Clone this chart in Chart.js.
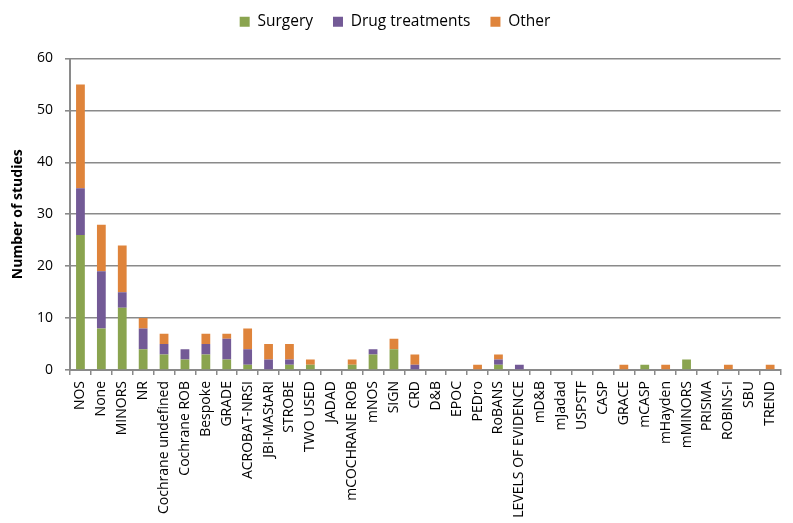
<!DOCTYPE html>
<html>
<head>
<meta charset="utf-8">
<script src="https://cdn.jsdelivr.net/npm/chart.js@4/dist/chart.umd.min.js"></script>
<style>
  html, body { margin: 0; padding: 0; background: #ffffff; }
  #wrap { width: 793px; height: 523px; }
</style>
</head>
<body>
<div id="wrap"><canvas id="c" width="793" height="523"></canvas></div>
<script>
// Quality-assessment tools used, split by treatment area
const tools = ["NOS", "None", "MINORS", "NR", "Cochrane undefined", "Cochrane ROB", "Bespoke", "GRADE",
  "ACROBAT-NRSI", "JBI-MAStARI", "STROBE", "TWO USED", "JADAD", "mCOCHRANE ROB", "mNOS", "SIGN", "CRD",
  "D&B", "EPOC", "PEDro", "RoBANS", "LEVELS OF EVIDENCE", "mD&B", "mJadad", "USPSTF", "CASP", "GRACE",
  "mCASP", "mHayden", "mMINORS", "PRISMA", "ROBINS-I", "SBU", "TREND"];

const surgery = [26, 8, 12, 4, 3, 2, 3, 2, 1, 0, 1, 1, 0, 1, 3, 4, 0,
  0, 0, 0, 1, 0, 0, 0, 0, 0, 0, 1, 0, 2, 0, 0, 0, 0];
const drugTreatments = [9, 11, 3, 4, 2, 2, 2, 4, 3, 2, 1, 0, 0, 0, 1, 0, 1,
  0, 0, 0, 1, 1, 0, 0, 0, 0, 0, 0, 0, 0, 0, 0, 0, 0];
const other = [20, 9, 9, 2, 2, 0, 2, 1, 4, 3, 3, 1, 0, 1, 0, 2, 2,
  0, 0, 1, 1, 0, 0, 0, 0, 0, 1, 0, 1, 0, 0, 1, 0, 1];

const yTicks = [0, 10, 20, 30, 40, 50, 60];

const FONT = "'Open Sans', 'DejaVu Sans', sans-serif";
const GRID = '#8a8a8a';

// Leave extra room between the legend row and the plot
const legendGap = {
  id: 'legendGap',
  beforeInit(chart) {
    const legend = chart.legend;
    const origFit = legend.fit;
    legend.fit = function () {
      origFit.call(this);
      this.height += 19;
    };
  }
};

new Chart(document.getElementById('c'), {
  type: 'bar',
  data: {
    labels: tools,
    datasets: [
      { label: 'Surgery', data: surgery, backgroundColor: '#8aa44f' },
      { label: 'Drug treatments', data: drugTreatments, backgroundColor: '#735a96' },
      { label: 'Other', data: other, backgroundColor: '#df843b' }
    ]
  },
  plugins: [legendGap],
  options: {
    responsive: false,
    animation: false,
    layout: { padding: { left: 0, right: 3, top: -6, bottom: 0 } },
    datasets: { bar: { categoryPercentage: 1.0, barPercentage: 0.42 } },
    plugins: {
      legend: {
        position: 'top',
        labels: {
          font: { family: FONT, size: 15.5 },
          color: '#000',
          boxWidth: 10,
          boxHeight: 10,
          padding: 20
        }
      },
      tooltip: { enabled: false }
    },
    scales: {
      x: {
        stacked: true,
        offset: true,
        afterFit: (axis) => { axis.height = 153; },
        border: { color: GRID, width: 2 },
        grid: { display: true, drawOnChartArea: false, drawTicks: true, tickLength: 5, color: GRID, lineWidth: 1.5, offset: true },
        ticks: {
          autoSkip: false,
          maxRotation: 90,
          minRotation: 90,
          color: '#000',
          font: { family: FONT, size: 14 },
          padding: 6
        }
      },
      y: {
        stacked: true,
        min: 0,
        max: 60,
        afterBuildTicks: (axis) => { axis.ticks = yTicks.map(v => ({ value: v })); },
        afterFit: (axis) => { axis.width = 70; },
        border: { color: GRID, width: 2 },
        grid: { color: GRID, lineWidth: 1.6, tickLength: 5 },
        ticks: { color: '#000', font: { family: FONT, size: 14 }, padding: 12 },
        title: {
          display: true,
          text: 'Number of studies',
          color: '#000',
          font: { family: FONT, size: 14, weight: 'bold' },
          padding: { top: 10, bottom: 0 }
        }
      }
    }
  }
});
</script>
</body>
</html>
